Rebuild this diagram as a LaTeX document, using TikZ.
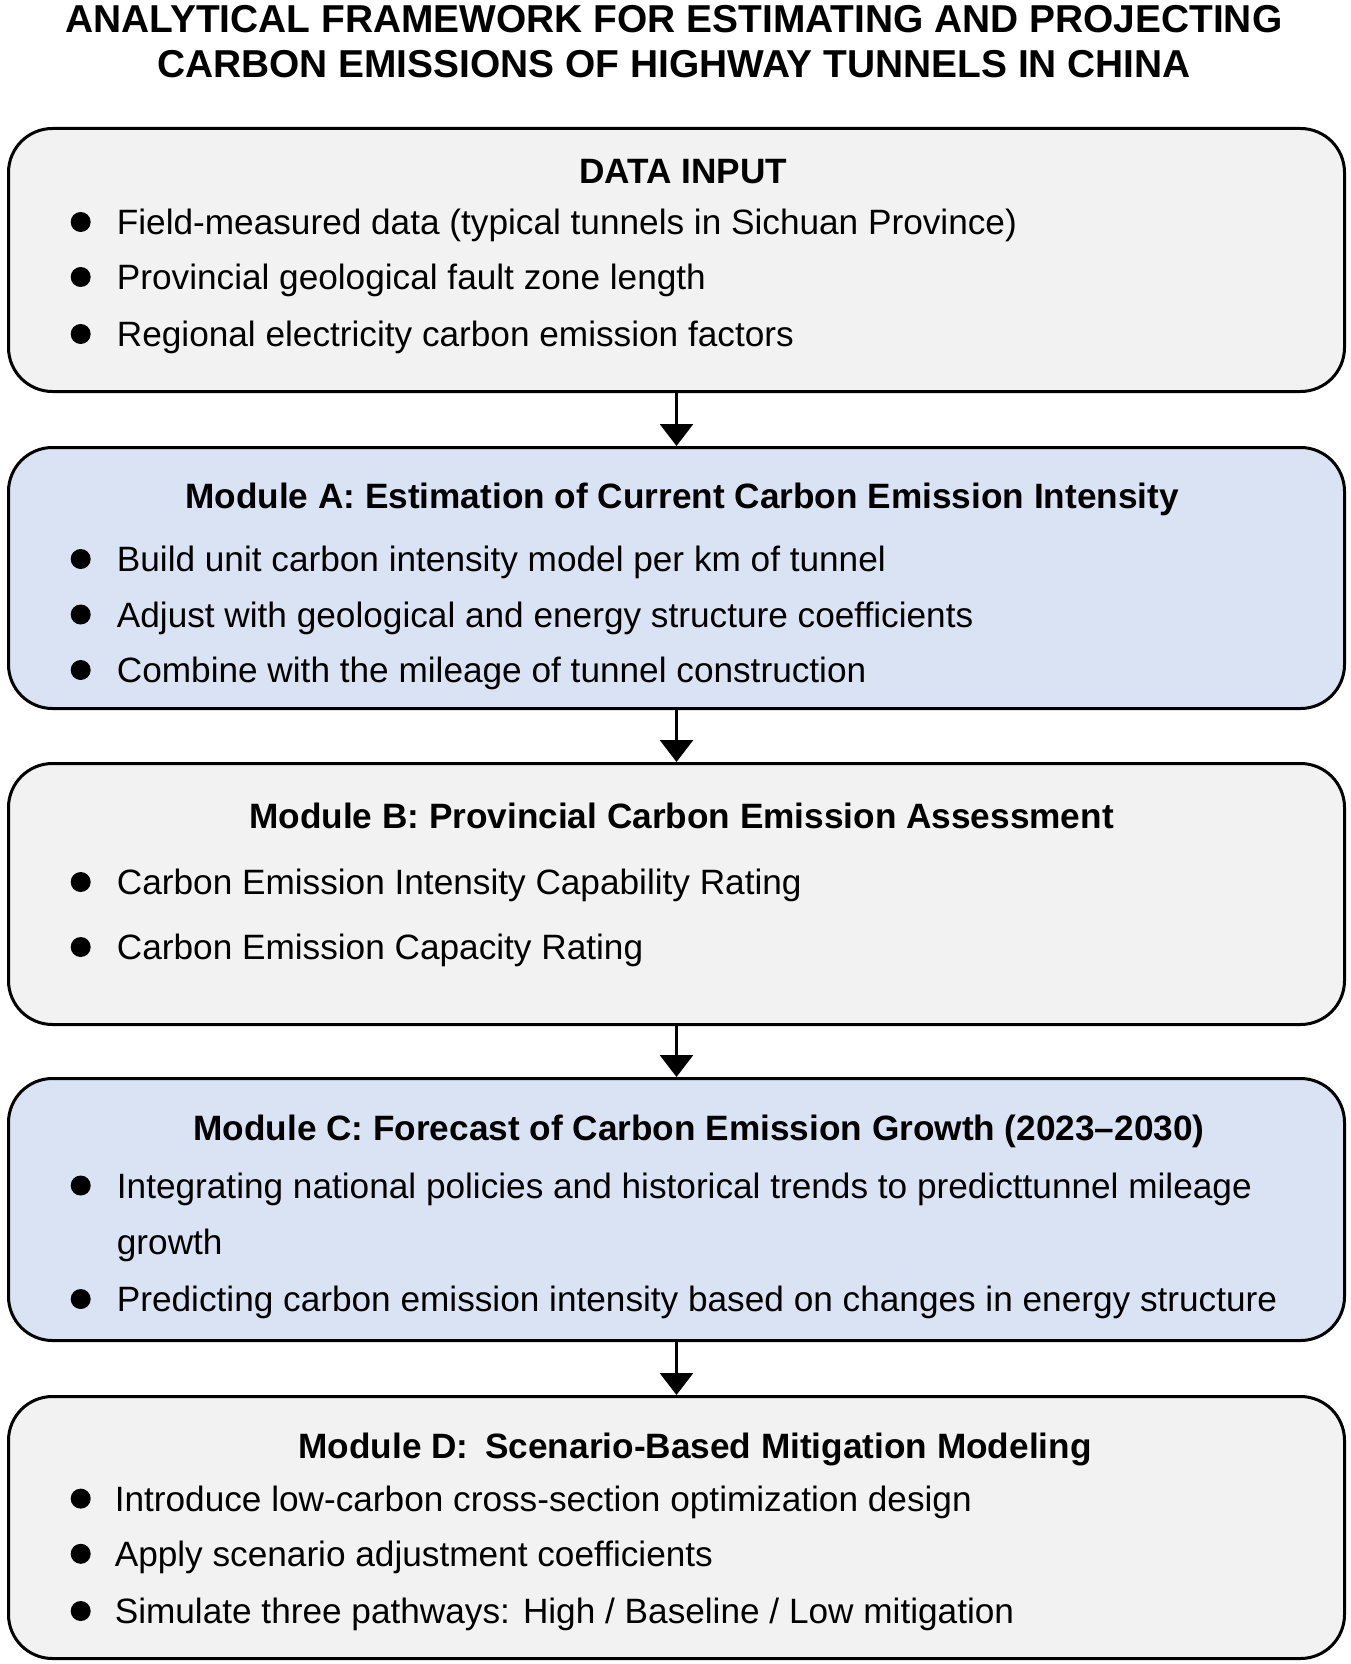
\documentclass[tikz,border=0pt]{standalone}
\usepackage{fontspec}
\setmainfont{Liberation Sans}
\usetikzlibrary{arrows.meta}
\definecolor{boxgray}{HTML}{F2F2F2}
\definecolor{boxblue}{HTML}{DAE3F3}
\begin{document}
\begin{tikzpicture}[x=1pt,y=-1pt,
  box/.style={draw=black, line width=3pt, rounded corners=44pt, minimum width=1336pt, anchor=north west, inner sep=0pt},
  graybox/.style={box, fill=boxgray},
  bluebox/.style={box, fill=boxblue},
  ttl/.style={font=\fontsize{38.9}{45}\selectfont\bfseries, anchor=base, inner sep=0pt},
  hdr/.style={font=\fontsize{35.2}{42}\selectfont\bfseries, anchor=base, inner sep=0pt},
  itm/.style={font=\fontsize{35.2}{42}\selectfont, anchor=base west, inner sep=0pt},
  dot/.style={circle, fill=black, minimum size=20pt, inner sep=0pt},
  flow/.style={line width=3pt, -{Triangle[width=33pt,length=22pt]}}]
\useasboundingbox (0,0) rectangle (1350,1664);
\fill[white] (0,0) rectangle (1350,1664);
% title
\node[ttl] (t1) at (674,33) {ANALYTICAL FRAMEWORK FOR ESTIMATING AND PROJECTING};
\node[ttl] (t2) at (674,78) {CARBON EMISSIONS OF HIGHWAY TUNNELS IN CHINA};
% boxes
\node[graybox, minimum height=263pt] (din) at (7,127) {};
\node[bluebox, minimum height=261pt] (ma) at (7,446) {};
\node[graybox, minimum height=261pt] (mb) at (7,762) {};
\node[bluebox, minimum height=262pt] (mc) at (7,1077) {};
\node[graybox, minimum height=262pt] (md) at (7,1395) {};
% arrows
\draw[flow] (din.south) -- (ma.north);
\draw[flow] (ma.south) -- (mb.north);
\draw[flow] (mb.south) -- (mc.north);
\draw[flow] (mc.south) -- (md.north);
% DATA INPUT
\node[hdr] (h0) at (683,183.5) {DATA INPUT};
\node[dot] (d01) at (80.7,222) {};
\node[itm] (i01) at (116.7,234.5) {Field-measured data (typical tunnels in Sichuan Province)};
\node[dot] (d02) at (80.7,277) {};
\node[itm] (i02) at (116.7,289.5) {Provincial geological fault zone length};
\node[dot] (d03) at (80.7,334) {};
\node[itm] (i03) at (116.7,346.5) {Regional electricity carbon emission factors};
% Module A
\node[hdr] (ha) at (682,508.5) {Module A: Estimation of Current Carbon Emission Intensity};
\node[dot] (da1) at (80.7,559) {};
\node[itm] (ia1) at (116.7,571.5) {Build unit carbon intensity model per km of tunnel};
\node[dot] (da2) at (80.7,614.5) {};
\node[itm] (ia2) at (116.7,627) {Adjust with geological and energy structure coefficients};
\node[dot] (da3) at (80.7,670) {};
\node[itm] (ia3) at (116.7,682.5) {Combine with the mileage of tunnel construction};
% Module B
\node[hdr] (hb) at (681.5,828.5) {Module B: Provincial Carbon Emission Assessment};
\node[dot] (db1) at (80.7,882) {};
\node[itm] (ib1) at (116.7,894.5) {Carbon Emission Intensity Capability Rating};
\node[dot] (db2) at (80.7,947) {};
\node[itm] (ib2) at (116.7,959.5) {Carbon Emission Capacity Rating};
% Module C
\node[hdr] (hc) at (699,1140.5) {Module C: Forecast of Carbon Emission Growth (2023–2030)};
\node[dot] (dc1) at (80.7,1185.5) {};
\node[itm] (ic1) at (116.7,1198) {Integrating national policies and historical trends to predicttunnel mileage};
\node[itm] (ic1b) at (116.7,1254.5) {growth};
\node[dot] (dc2) at (80.7,1299) {};
\node[itm] (ic2) at (116.7,1311.5) {Predicting carbon emission intensity based on changes in energy structure};
% Module D
\node[hdr] (hd) at (695,1458) {Module D:\hspace{0.2em} Scenario-Based Mitigation Modeling};
\node[dot] (dd1) at (80.7,1498.6) {};
\node[itm] (id1) at (114.6,1511.1) {Introduce low-carbon cross-section optimization design};
\node[dot] (dd2) at (80.7,1553.8) {};
\node[itm] (id2) at (114.6,1566.3) {Apply scenario adjustment coefficients};
\node[dot] (dd3) at (80.7,1611) {};
\node[itm] (id3) at (114.6,1623.5) {Simulate three pathways: High / Baseline / Low mitigation};
\end{tikzpicture}
\end{document}
